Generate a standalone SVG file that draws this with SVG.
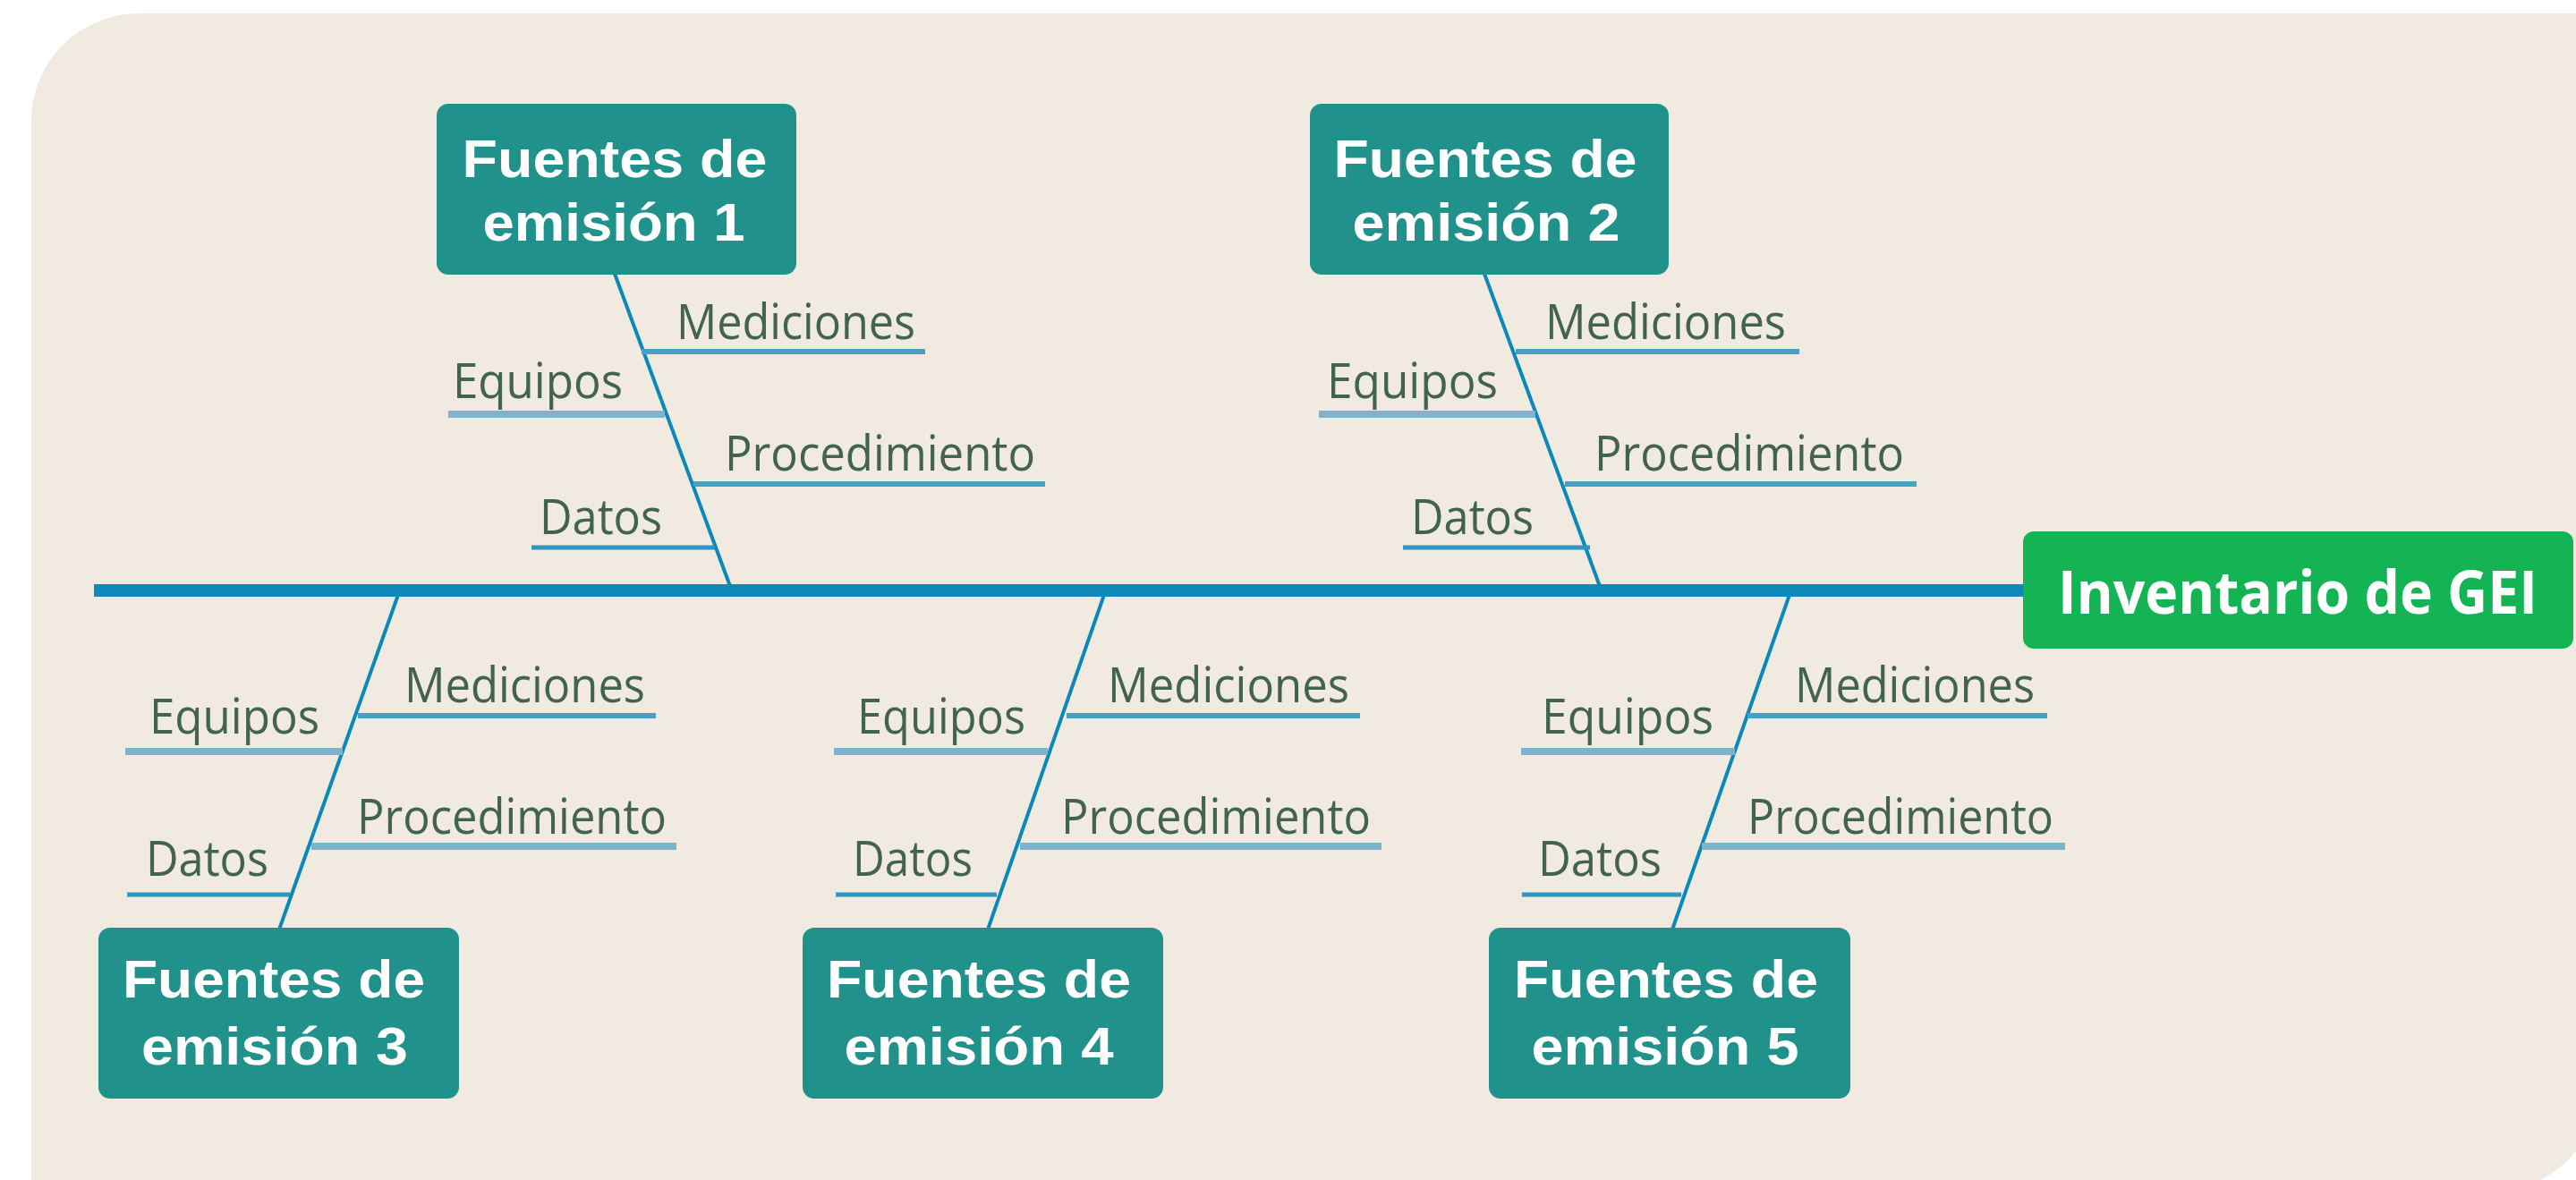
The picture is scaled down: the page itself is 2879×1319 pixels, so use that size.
<svg xmlns="http://www.w3.org/2000/svg" width="2879" height="1319" viewBox="0 0 2879 1319">
<style>
.bg{fill:#F1EAE1}
.box{fill:#21918C}
.root{fill:#14B455}
.bt{font-family:"Liberation Sans",Arial,sans-serif;font-weight:bold;font-size:60px;fill:#FFFFFF;text-anchor:middle}
.rt{font-family:"Open Sans","Liberation Sans",sans-serif;font-weight:bold;font-size:66px;fill:#FFFFFF;text-anchor:middle}
.lb{font-family:"Open Sans","Liberation Sans",sans-serif;font-size:54px;fill:#42634C}
.spine{stroke:#0E89B9;stroke-width:14;fill:none}
.bone{stroke:#0A88B8;stroke-width:4;fill:none}
.rib{stroke:#4A9FC5;stroke-width:6;fill:none}
.ribl{stroke:#7DB3CD;stroke-width:8;fill:none}
.ribd{stroke:#2F95C2;stroke-width:5;fill:none}
</style>
<path class="bg" d="M35,135 A120,120 0 0 1 155,15 L2905,15 L2905,1212 A120,120 0 0 1 2785,1332 L35,1332 Z"/>
<g id="connectors">
<line class="spine" x1="105" y1="660" x2="2262" y2="660"/>
<line class="bone" x1="687" y1="306" x2="817" y2="658"/>
<line class="bone" x1="1659" y1="306" x2="1789" y2="658"/>
<line class="bone" x1="446" y1="662" x2="312" y2="1039"/>
<line class="bone" x1="1235" y1="662" x2="1104" y2="1039"/>
<line class="bone" x1="2001" y1="662" x2="1869" y2="1039"/>
<line class="rib" x1="717" y1="393" x2="1034" y2="393"/>
<line class="ribl" x1="501" y1="463" x2="743" y2="463"/>
<line class="rib" x1="775" y1="541" x2="1168" y2="541"/>
<line class="ribd" x1="594" y1="612" x2="799" y2="612"/>
<line class="rib" x1="1694" y1="393" x2="2011" y2="393"/>
<line class="ribl" x1="1474" y1="463" x2="1716" y2="463"/>
<line class="rib" x1="1749" y1="541" x2="2142" y2="541"/>
<line class="ribd" x1="1568" y1="612" x2="1777" y2="612"/>
<line class="rib" x1="400" y1="800" x2="733" y2="800"/>
<line class="ribl" x1="140" y1="840" x2="383" y2="840"/>
<line class="ribl" x1="348" y1="946" x2="756" y2="946"/>
<line class="ribd" x1="142" y1="1000" x2="324" y2="1000"/>
<line class="rib" x1="1192" y1="800" x2="1520" y2="800"/>
<line class="ribl" x1="932" y1="840" x2="1171" y2="840"/>
<line class="ribl" x1="1140" y1="946" x2="1544" y2="946"/>
<line class="ribd" x1="934" y1="1000" x2="1114" y2="1000"/>
<line class="rib" x1="1953" y1="800" x2="2288" y2="800"/>
<line class="ribl" x1="1700" y1="840" x2="1939" y2="840"/>
<line class="ribl" x1="1902" y1="946" x2="2308" y2="946"/>
<line class="ribd" x1="1701" y1="1000" x2="1879" y2="1000"/>
</g>
<g id="labels">
<text class="lb" x="756" y="379" textLength="267" lengthAdjust="spacingAndGlyphs">Mediciones</text>
<text class="lb" x="506" y="445" textLength="190" lengthAdjust="spacingAndGlyphs">Equipos</text>
<text class="lb" x="810" y="526" textLength="347" lengthAdjust="spacingAndGlyphs">Procedimiento</text>
<text class="lb" x="603" y="597" textLength="137" lengthAdjust="spacingAndGlyphs">Datos</text>
<text class="lb" x="1727" y="379" textLength="269" lengthAdjust="spacingAndGlyphs">Mediciones</text>
<text class="lb" x="1483" y="445" textLength="191" lengthAdjust="spacingAndGlyphs">Equipos</text>
<text class="lb" x="1782" y="526" textLength="346" lengthAdjust="spacingAndGlyphs">Procedimiento</text>
<text class="lb" x="1577" y="597" textLength="137" lengthAdjust="spacingAndGlyphs">Datos</text>
<text class="lb" x="452" y="785" textLength="269" lengthAdjust="spacingAndGlyphs">Mediciones</text>
<text class="lb" x="167" y="820" textLength="190" lengthAdjust="spacingAndGlyphs">Equipos</text>
<text class="lb" x="399" y="932" textLength="346" lengthAdjust="spacingAndGlyphs">Procedimiento</text>
<text class="lb" x="163" y="979" textLength="137" lengthAdjust="spacingAndGlyphs">Datos</text>
<text class="lb" x="1238" y="785" textLength="270" lengthAdjust="spacingAndGlyphs">Mediciones</text>
<text class="lb" x="958" y="820" textLength="188" lengthAdjust="spacingAndGlyphs">Equipos</text>
<text class="lb" x="1186" y="932" textLength="346" lengthAdjust="spacingAndGlyphs">Procedimiento</text>
<text class="lb" x="953" y="979" textLength="134" lengthAdjust="spacingAndGlyphs">Datos</text>
<text class="lb" x="2006" y="785" textLength="268" lengthAdjust="spacingAndGlyphs">Mediciones</text>
<text class="lb" x="1723" y="820" textLength="192" lengthAdjust="spacingAndGlyphs">Equipos</text>
<text class="lb" x="1953" y="932" textLength="342" lengthAdjust="spacingAndGlyphs">Procedimiento</text>
<text class="lb" x="1719" y="979" textLength="138" lengthAdjust="spacingAndGlyphs">Datos</text>
</g>
<g id="node-fuentes-1">
<rect class="box" x="488" y="116" width="402" height="191" rx="13"/>
<text class="bt" x="687" y="198" textLength="341" lengthAdjust="spacingAndGlyphs">Fuentes de</text>
<text class="bt" x="686" y="269" textLength="293" lengthAdjust="spacingAndGlyphs">emisión 1</text>
</g>
<g id="node-fuentes-2">
<rect class="box" x="1464" y="116" width="401" height="191" rx="13"/>
<text class="bt" x="1660" y="198" textLength="339" lengthAdjust="spacingAndGlyphs">Fuentes de</text>
<text class="bt" x="1661" y="269" textLength="299" lengthAdjust="spacingAndGlyphs">emisión 2</text>
</g>
<g id="node-fuentes-3">
<rect class="box" x="110" y="1037" width="403" height="191" rx="13"/>
<text class="bt" x="306" y="1115" textLength="338" lengthAdjust="spacingAndGlyphs">Fuentes de</text>
<text class="bt" x="307" y="1190" textLength="298" lengthAdjust="spacingAndGlyphs">emisión 3</text>
</g>
<g id="node-fuentes-4">
<rect class="box" x="897" y="1037" width="403" height="191" rx="13"/>
<text class="bt" x="1094" y="1115" textLength="340" lengthAdjust="spacingAndGlyphs">Fuentes de</text>
<text class="bt" x="1094" y="1190" textLength="301" lengthAdjust="spacingAndGlyphs">emisión 4</text>
</g>
<g id="node-fuentes-5">
<rect class="box" x="1664" y="1037" width="404" height="191" rx="13"/>
<text class="bt" x="1862" y="1115" textLength="340" lengthAdjust="spacingAndGlyphs">Fuentes de</text>
<text class="bt" x="1861" y="1190" textLength="299" lengthAdjust="spacingAndGlyphs">emisión 5</text>
</g>
<g id="node-inventario">
<rect class="root" x="2261" y="594" width="615" height="131" rx="12"/>
<text class="rt" x="2568" y="686" textLength="536" lengthAdjust="spacingAndGlyphs">Inventario de GEI</text>
</g>
</svg>
